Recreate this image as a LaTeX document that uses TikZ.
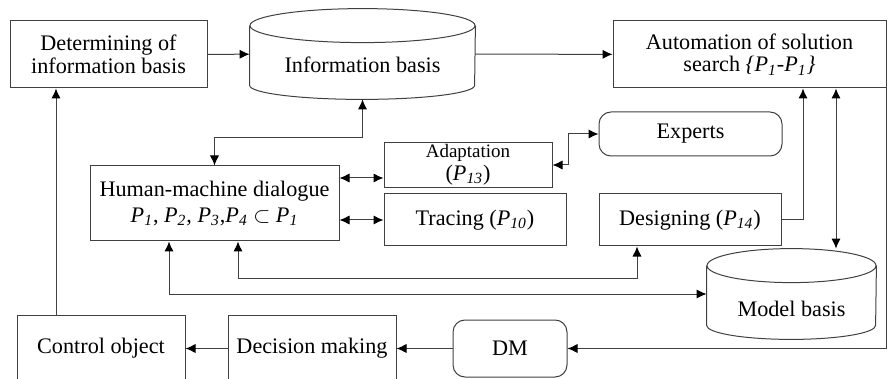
\documentclass[tikz,border=0pt]{standalone}
\usepackage{fontspec}
\setmainfont{Liberation Serif}
\usetikzlibrary{arrows.meta}

\newcommand{\Pn}[1]{\textit{P}\textsubscript{\textit{#1}}}

\begin{document}
\begin{tikzpicture}[x=0.5pt, y=-0.5pt,
  font=\fontsize{11.1}{11.3}\selectfont,
  wire/.style={draw=black!75, line width=0.5pt},
  block/.style={wire, align=center, inner sep=1pt},
  soft block/.style={block, rounded corners=6pt},
  store/.style={align=center, inner sep=0pt, minimum height=45pt},
  tip/.tip={Latex[length=5pt,width=4.6pt,color=black]},
  link/.style={wire, -tip},
  both/.style={wire, tip-tip}]

  \useasboundingbox (0,0) rectangle (888,379);
  \clip (0,0) rectangle (888,379);

  % Upper row: information basis and solution search

  \node [block, minimum width=98.5pt, minimum height=33.5pt] (det) at (108.5,54.5)
    {Determining of\\information basis};
  \node [store, minimum width=112.5pt, text height=21pt, text depth=2pt] (inf) at (362.5,54)
    {Information basis};
  \node [block, minimum width=136.5pt, minimum height=33.5pt] (aut) at (749.5,54.5)
    {Automation of solution\\search \textit{\{}\Pn{1}\textit{-}\Pn{1}\textit{\}}};

  % Middle: dialogue and its procedures

  \node [soft block, minimum width=91.5pt, minimum height=22pt] (exp) at (690.5,134) {Experts};
  \node [block, minimum width=124.5pt, minimum height=37.5pt] (hmd) at (214.5,203.5)
    {Human-machine dialogue\\[1.6pt]\Pn{1}, \Pn{2}, \Pn{3},\Pn{4} $\subset$ \Pn{1}};
  \node [block, minimum width=84pt, minimum height=22pt] (adp) at (468,165)
    {{\fontsize{9.5}{11.5}\selectfont Adaptation}\\(\Pn{13})};
  \node [block, minimum width=91pt, minimum height=26pt] (trc) at (475,220) {Tracing (\Pn{10})};
  \node [block, minimum width=91pt, minimum height=26pt] (dsg) at (690,220) {Designing (\Pn{14})};
  \node [store, minimum width=84.5pt, text height=24pt, text depth=2pt] (mdl) at (791.5,294)
    {Model basis};

  % Lower row: decision chain

  \node [block, minimum width=84pt, minimum height=33.5pt] (ctl) at (101,348.5) {Control object};
  \node [block, minimum width=84pt, minimum height=33.5pt] (dec) at (312,348.5) {Decision making};
  \node [soft block, minimum width=57pt, minimum height=28.5pt] (dm) at (510,348.5) {DM};

  % Cylinders for the two bases

  \foreach \c/\r in {inf/56.25pt, mdl/42.25pt}
    \draw [wire] ([yshift=-8.5pt]\c.north) ellipse [x radius=\r, y radius=8.5pt]
      ([yshift=-8.5pt]\c.north west) -- ([yshift=7pt]\c.south west)
      arc [start angle=180, end angle=360, x radius=\r, y radius=7pt]
      -- ([yshift=-8.5pt]\c.north east);

  % Connections

  \coordinate (ctlup) at ([xshift=-22.5pt]ctl.north);
  \coordinate (autr) at ([xshift=43.25pt]aut.south);

  \draw [link] (det) -- (inf);
  \draw [link] (inf) -- (aut);
  \draw [link] (ctlup) -- (ctlup |- det.south);
  \draw [both] (inf.south) -- ++(0,38) -| (hmd.north);
  \draw [both] ([yshift=-6.5pt]adp.west) -- ([yshift=-6.5pt]adp.west -| hmd.east);
  \draw [both] (trc.west) -- (trc.west -| hmd.east);
  \draw [both] (adp.east) -- ++(16,0) |- (exp.west);
  \draw [link] (dsg.east) -| ([xshift=26.75pt]aut.south);
  \draw [both] (autr) -- (autr |- mdl.north);
  \draw [link] (aut.south east) |- (dm.east);
  \draw [both] ([xshift=11.75pt]hmd.south) -- ++(0,37) -| ([xshift=-26.5pt]dsg.south);
  \draw [both] ([xshift=-22.75pt]hmd.south) |- (mdl.west);
  \draw [link] (dm) -- (dec);
  \draw [link] (dec) -- (ctl);
\end{tikzpicture}
\end{document}
